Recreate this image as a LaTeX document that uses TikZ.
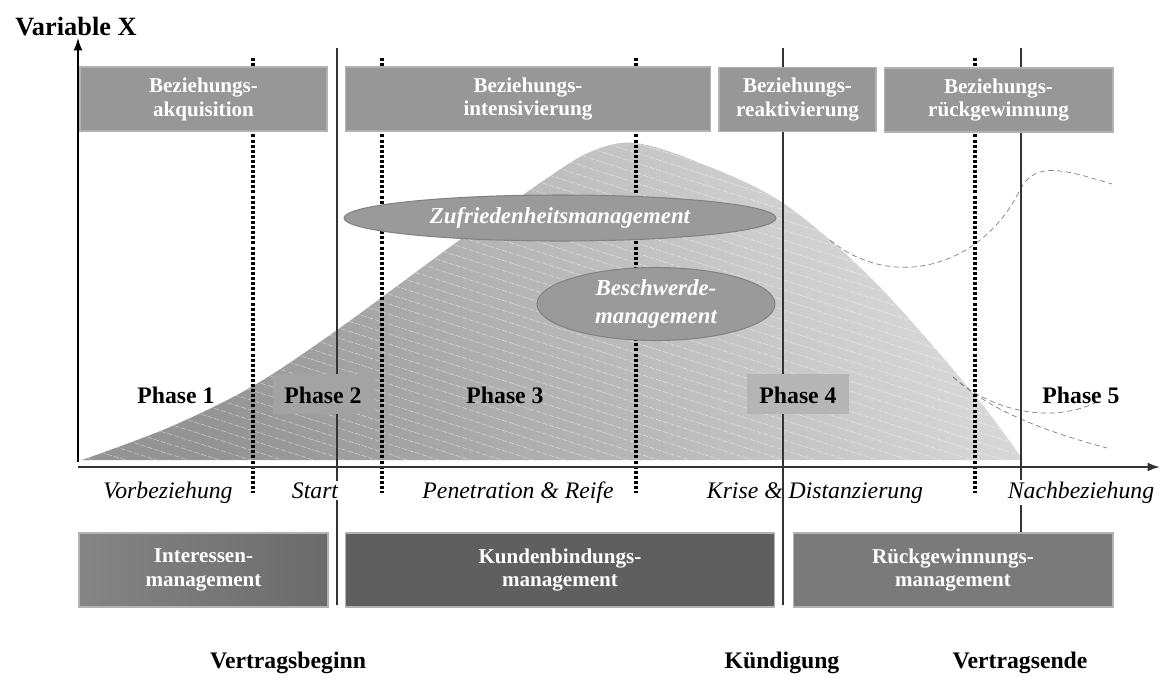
\documentclass[tikz,border=0pt]{standalone}
\usepackage{fontspec}
\setmainfont{Liberation Serif}
\usepackage{tikz}
\usetikzlibrary{positioning}
\usetikzlibrary{arrows}
\usetikzlibrary{arrows.meta}
\usetikzlibrary{shapes.geometric}
\usetikzlibrary{backgrounds}

\definecolor{boxgray}{HTML}{979797}
\definecolor{boxline}{HTML}{B2B2B2}
\definecolor{ellgray}{HTML}{9A9A9A}
\definecolor{ellline}{HTML}{828282}
\definecolor{mgmtdark}{HTML}{5F5F5F}
\definecolor{mgmtmid}{HTML}{7A7A7A}
\definecolor{axisgray}{HTML}{333333}

\newcommand{\bxfont}{\fontsize{12}{13.6}\selectfont\bfseries}
\newcommand{\phfont}{\fontsize{13.5}{15}\selectfont\bfseries}
\newcommand{\lbfont}{\fontsize{13.5}{15}\selectfont\itshape}
\newcommand{\elfont}{\fontsize{13}{15.5}\selectfont\bfseries\itshape}

\begin{document}
\begin{tikzpicture}[
            > = {Latex[length=7pt,width=5pt]}, % arrow head style
            x = 0.02cm, y = -0.02cm, % one unit per pixel, y grows downwards
            semithick % line style
        ]

        \tikzstyle{topbox}=[
            rectangle,
            draw = boxline,
            fill = boxgray,
            text = white,
            font = \bxfont,
            align = center,
            inner sep = 0pt,
            minimum height = 1.28cm
        ]
        \tikzstyle{mgmtbox}=[
            rectangle,
            draw = boxline,
            fill = mgmtmid,
            text = white,
            font = \bxfont,
            align = center,
            inner sep = 0pt,
            minimum height = 1.48cm
        ]
        \tikzstyle{oval}=[
            ellipse,
            draw = ellline,
            fill = ellgray,
            text = white,
            font = \elfont,
            align = center,
            inner sep = 0pt
        ]
        \tikzstyle{phasebox}=[
            rectangle,
            anchor = base,
            font = \phfont,
            inner sep = 0pt,
            text height = 16.4pt,
            text depth = 6.2pt
        ]
        \tikzstyle{stripe}=[white, opacity = 0.5, line width = 0.3pt, dash pattern = on 3pt off 1pt]
        \tikzstyle{trend}=[gray, thin, dash pattern = on 3pt off 2pt]
        \tikzstyle{border}=[black, line width = 2.2pt, dash pattern = on 1.7pt off 1.2pt]
        \tikzstyle{event}=[axisgray, line width = 0.8pt]

        \useasboundingbox (0,0) rectangle (1160,680);

        % relationship curve
        \begin{scope}
            \clip plot[smooth, tension = 0.55] coordinates {
                (82,460) (170,427) (253,386) (337,330) (450,247) (540,183)
                (590,152) (635,143) (700,163) (783,203) (873,280) (973,393)
                (1023,460)} -- cycle;
            \shade[shading = axis, top color = black!14, bottom color = black!42, shading angle = -60]
                (80,140) rectangle (1030,462);
            \foreach \i in {-40,...,47}
                \draw[stripe] (0,\i*10) -- ++(1160,370);
        \end{scope}

        % possible courses after the crisis
        \coordinate (T0) at (830,240);
        \coordinate (T1) at (1020,190);
        \coordinate (T2) at (1112,184);
        \coordinate (S0) at (953,377);
        \coordinate (S1) at (1097,402);
        \coordinate (S2) at (1107,448);
        \draw[trend] (T0) .. controls (890,290) and (980,270) .. (T1)
                          .. controls (1035,160) and (1065,170) .. (T2);
        \draw[trend] (S0) .. controls (990,410) and (1050,425) .. (S1);
        \draw[trend] (S0) .. controls (990,410) and (1040,430) .. (S2);

        % phase borders
        \foreach \x [count=\k] in {253,382,636,975} {
            \coordinate (D\k t) at (\x,58);
            \coordinate (D\k b) at (\x,493);
            \draw[border] (D\k t) -- (D\k b);
        }

        % contract events
        \foreach \x [count=\k] in {337,783,1021} {
            \coordinate (V\k t) at (\x,48);
            \coordinate (V\k b) at (\x,605);
            \draw[event] (V\k t) -- (V\k b);
        }

        % axes
        \coordinate (O) at (78,467);
        \coordinate (XE) at (1160,467);
        \coordinate (Y0) at (78,462);
        \coordinate (YE) at (78,38);
        \path[->, axisgray, line width = 1.2pt] (O) edge (XE);
        \path[->, black, line width = 0.8pt] (Y0) edge (YE);
        \node[anchor = base, font = \fontsize{15}{17}\selectfont\bfseries] (VX) at (76,35) {Variable X};

        % relationship tasks
        \node[topbox, minimum width = 4.94cm] (B1) at (203.5,99) {Beziehungs-\\akquisition};
        \node[topbox, minimum width = 7.32cm] (B2) at (528,99) {Beziehungs-\\intensivierung};
        \node[topbox, minimum width = 3.14cm] (B3) at (797.5,99.5) {Beziehungs-\\reaktivierung};
        \node[topbox, minimum width = 4.58cm] (B4) at (998.5,100) {Beziehungs-\\rückgewinnung};

        % cross-phase tasks
        \node[oval, minimum width = 8.64cm, minimum height = 0.92cm] (E1) at (560,218) {Zufriedenheitsmanagement};
        \node[oval, minimum width = 4.76cm, minimum height = 1.46cm] (E2) at (656,304) {Beschwerde-\\management};

        % phases
        \node[anchor = base, font = \phfont] (PH1) at (176,403) {Phase 1};
        \node[phasebox, fill = black!36, minimum width = 2cm] (PH2) at (323,403) {Phase 2};
        \node[anchor = base, font = \phfont] (PH3) at (505,403) {Phase 3};
        \node[phasebox, fill = black!29, minimum width = 2.04cm] (PH4) at (798,403) {Phase 4};
        \node[anchor = base, font = \phfont] (PH5) at (1081,403) {Phase 5};

        % phase names
        \node[anchor = base, font = \lbfont] (L1) at (168,498) {Vorbeziehung};
        \node[anchor = base, font = \lbfont, fill = white, inner sep = 1pt] (L2) at (315,498) {Start};
        \node[anchor = base, font = \lbfont] (L3) at (518,498) {Penetration \& Reife};
        \node[anchor = base, font = \lbfont] (L4) at (815,498) {Krise \& Distanzierung};
        \node[anchor = base, font = \lbfont, fill = white, inner sep = 1pt] (L5) at (1081,498) {Nachbeziehung};

        % management areas
        \node[mgmtbox, minimum width = 4.98cm, left color = black!48, right color = black!58] (M1) at (203.5,570) {Interessen-\\management};
        \node[mgmtbox, minimum width = 8.6cm, fill = mgmtdark] (M2) at (560,570) {Kundenbindungs-\\management};
        \node[mgmtbox, minimum width = 6.4cm] (M3) at (953,570) {Rückgewinnungs-\\management};

        % events
        \node[anchor = base, font = \phfont] (C1) at (288,668) {Vertragsbeginn};
        \node[anchor = base, font = \phfont] (C2) at (782,668) {Kündigung};
        \node[anchor = base, font = \phfont] (C3) at (1020,668) {Vertragsende};

\end{tikzpicture}
\end{document}
